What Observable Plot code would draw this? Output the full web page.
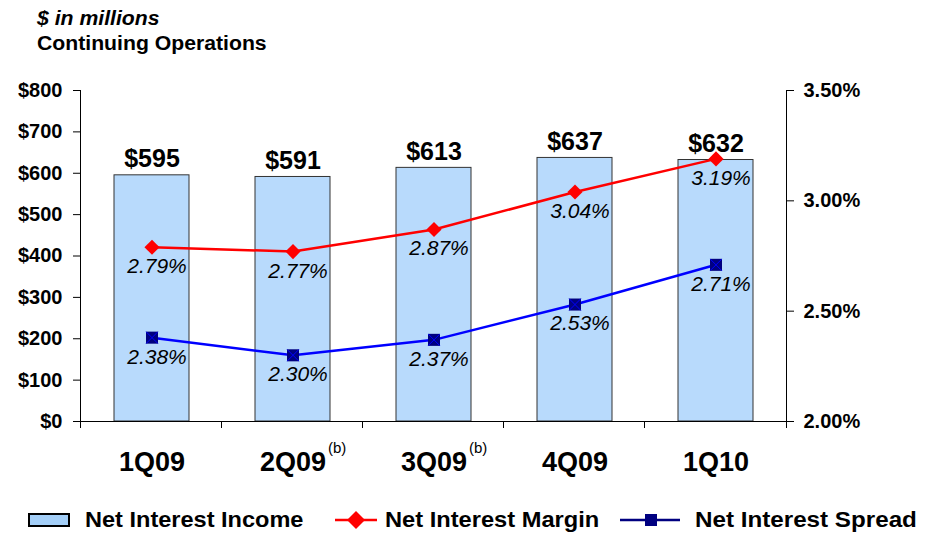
<!DOCTYPE html>
<html><head><meta charset="utf-8">
<script src="https://cdn.jsdelivr.net/npm/d3@7"></script>
<script src="https://cdn.jsdelivr.net/npm/@observablehq/plot@0.6"></script>
<style>
body{margin:0;background:#fff;font-family:"Liberation Sans",Arial,sans-serif;}
#wrap{position:relative;width:929px;height:534px;overflow:hidden;background:#fff;}
#chart{position:absolute;left:0;top:0;}
.t{position:absolute;white-space:nowrap;color:#000;font-weight:bold;line-height:1;transform-origin:0 50%;}
.sw{position:absolute;}
</style></head><body>
<div id="wrap">
  <div class="t" style="left:37px;top:8px;font-size:20px;font-style:italic;transform:scaleX(1.06)">$ in millions</div>
  <div class="t" style="left:37px;top:33px;font-size:20px;transform:scaleX(1.06)">Continuing Operations</div>
  <div id="chart"></div>
  <div id="legend"></div>
</div>
<script>
const categories = ["1Q09","2Q09","3Q09","4Q09","1Q10"];
const notes = ["","(b)","(b)","",""];
const income = [595,591,613,637,632];
const margin = [2.79,2.77,2.87,3.04,3.19];
const spread = [2.38,2.30,2.37,2.53,2.71];
const dollarTicks = [0,100,200,300,400,500,600,700,800];
const pctTicks = [2.00,2.50,3.00,3.50];
const seriesNames = ["Net Interest Income","Net Interest Margin","Net Interest Spread"];

const yMax = dollarTicks[dollarTicks.length-1];
const pMin = pctTicks[0], pMax = pctTicks[pctTicks.length-1];
const pToY = p => (p - pMin)/(pMax - pMin)*yMax;
const yToP = y => y/yMax*(pMax - pMin) + pMin;

const rows = categories.map((c,i)=>({cat:c, note:notes[i], income:income[i], margin:margin[i], spread:spread[i], my:pToY(margin[i]), sy:pToY(spread[i])}));

const font = "'Liberation Sans', Arial, sans-serif";
const chart = Plot.plot({
  width:929, height:490, marginTop:90, marginBottom:69, marginLeft:80, marginRight:143,
  style:{fontFamily:font, color:"#000", background:"transparent", overflow:"visible"},
  x:{domain:categories, paddingInner:0.47, paddingOuter:0.235, axis:null},
  y:{domain:[0,yMax], axis:null},
  marks:[
    Plot.barY(rows,{x:"cat", y:"income", fill:"#B8DAFC", stroke:"#333", strokeWidth:1}),
    Plot.ruleY([0],{stroke:"#000", strokeWidth:1}),
    Plot.axisY({anchor:"left", ticks:dollarTicks, tickFormat:d=>"$"+d, tickSize:7, tickPadding:11, fontSize:20, fontWeight:"bold", label:null}),
    Plot.axisY({anchor:"right", ticks:pctTicks.map(pToY), tickFormat:d=>yToP(d).toFixed(2)+"%", tickSize:7, tickPadding:10, fontSize:20, fontWeight:"bold", label:null}),
    Plot.text(rows,{x:"cat", y:"income", text:d=>"$"+d.income, lineAnchor:"bottom", dy:-8, fontSize:25, fontWeight:"bold"}),
    Plot.line(rows,{x:"cat", y:"my", stroke:"#FF0000", strokeWidth:2.5}),
    Plot.line(rows,{x:"cat", y:"sy", stroke:"#0000FF", strokeWidth:2.5}),
    Plot.dot(rows,{x:"cat", y:"my", symbol:"diamond2", r:6.8, fill:"#FF0000", stroke:"none"}),
    Plot.dot(rows,{x:"cat", y:"sy", symbol:"square", r:6.8, fill:"#000080", stroke:"none"}),
    Plot.dot(rows,{x:"cat", y:"sy", symbol:"times", r:5.4, stroke:"#0000FF", strokeWidth:1}),
    Plot.text(rows,{x:"cat", y:"my", text:d=>d.margin.toFixed(2)+"%", lineAnchor:"top", dy:11, dx:5, fontSize:21, fontStyle:"italic"}),
    Plot.text(rows,{x:"cat", y:"sy", text:d=>d.spread.toFixed(2)+"%", lineAnchor:"top", dy:11, dx:5, fontSize:21, fontStyle:"italic"}),
    Plot.text(rows,{x:"cat", text:"cat", frameAnchor:"bottom", lineAnchor:"middle", dy:41, fontSize:27, fontWeight:"bold"}),
    Plot.text(rows,{x:"cat", text:"note", frameAnchor:"bottom", textAnchor:"start", lineAnchor:"middle", dx:35, dy:27, fontSize:15})
  ]
});

// axis lines and category boundary ticks, from Plot's own scales
const xs = chart.scale("x"), ys = chart.scale("y");
const [x0, x1] = xs.range, [yb, yt] = ys.range;
const g = d3.select(chart).append("g").attr("stroke","#000").attr("stroke-width",1).attr("shape-rendering","crispEdges");
[x0, x1].forEach(x => g.append("line").attr("x1",x).attr("x2",x).attr("y1",yt).attr("y2",yb));
d3.range(categories.length+1).forEach(i => {
  const x = x0 + i*(x1-x0)/categories.length;
  g.append("line").attr("x1",x).attr("x2",x).attr("y1",yb).attr("y2",yb+7);
});
document.getElementById("chart").appendChild(chart);

// legend
const lg = document.getElementById("legend");
lg.innerHTML = `
  <div class="sw" style="left:28px;top:513px;width:42px;height:14px;box-sizing:border-box;border:2.5px solid #000;background:#A4CFF8"></div>
  <div class="t" style="left:85px;top:509px;font-size:22px;transform:scaleX(1.07)">${seriesNames[0]}</div>
  <svg class="sw" style="left:333px;top:510px" width="46" height="20"><line x1="2" x2="44" y1="10" y2="10" stroke="#FF0000" stroke-width="2.5"/><path d="M23,1L32,10L23,19L14,10Z" fill="#FF0000"/></svg>
  <div class="t" style="left:385px;top:509px;font-size:22px;transform:scaleX(1.075)">${seriesNames[1]}</div>
  <svg class="sw" style="left:618px;top:510px" width="66" height="20"><line x1="2" x2="62" y1="10" y2="10" stroke="#000080" stroke-width="2.5"/><rect x="27" y="4" width="12" height="12" fill="#000080"/></svg>
  <div class="t" style="left:695px;top:509px;font-size:22px;transform:scaleX(1.1)">${seriesNames[2]}</div>`;
</script>
</body></html>
